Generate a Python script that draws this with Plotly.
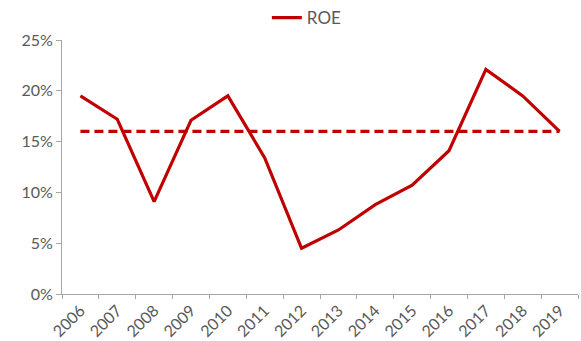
import plotly.graph_objects as go

years = ["2006", "2007", "2008", "2009", "2010", "2011", "2012",
         "2013", "2014", "2015", "2016", "2017", "2018", "2019"]
roe = [0.195, 0.172, 0.091, 0.171, 0.195, 0.134, 0.045,
       0.063, 0.088, 0.107, 0.141, 0.221, 0.195, 0.160]
avg = [0.160] * len(years)

RED = "#C00000"
GREY_TXT = "#595959"
AXIS = "#A6A6A6"
FONT = "Lato"

fig = go.Figure()
fig.add_trace(go.Scatter(x=years, y=roe, mode="lines", name="ROE",
                         line=dict(color=RED, width=3.2)))
fig.add_trace(go.Scatter(x=years, y=avg, mode="lines", name="Average",
                         showlegend=False,
                         line=dict(color=RED, width=3.2, dash="9px,5px")))

fig.update_layout(
    width=581, height=341,
    margin=dict(l=62, r=3, t=40, b=47, autoexpand=False),
    paper_bgcolor="white", plot_bgcolor="white",
    font=dict(family=FONT, color=GREY_TXT, size=15),
    showlegend=True,
    legend=dict(orientation="h", x=0.397, xanchor="left", y=1.0,
                yanchor="top", yref="container",
                font=dict(size=17, color=GREY_TXT),
                bgcolor="rgba(0,0,0,0)"),
    xaxis=dict(type="category", range=[-0.5, 13.5], tickson="boundaries",
               showline=True, linecolor=AXIS, linewidth=1,
               ticks="outside", ticklen=4, tickcolor=AXIS,
               tickangle=-45, showgrid=False, zeroline=False,
               tickfont=dict(size=16, color=GREY_TXT)),
    yaxis=dict(range=[0, 0.25], dtick=0.05, tickformat=".0%",
               showline=True, linecolor=AXIS, linewidth=1,
               ticks="outside", ticklen=5, tickcolor=AXIS,
               showgrid=False, zeroline=False,
               tickfont=dict(size=16, color=GREY_TXT)),
)

fig.write_html("out.html")
